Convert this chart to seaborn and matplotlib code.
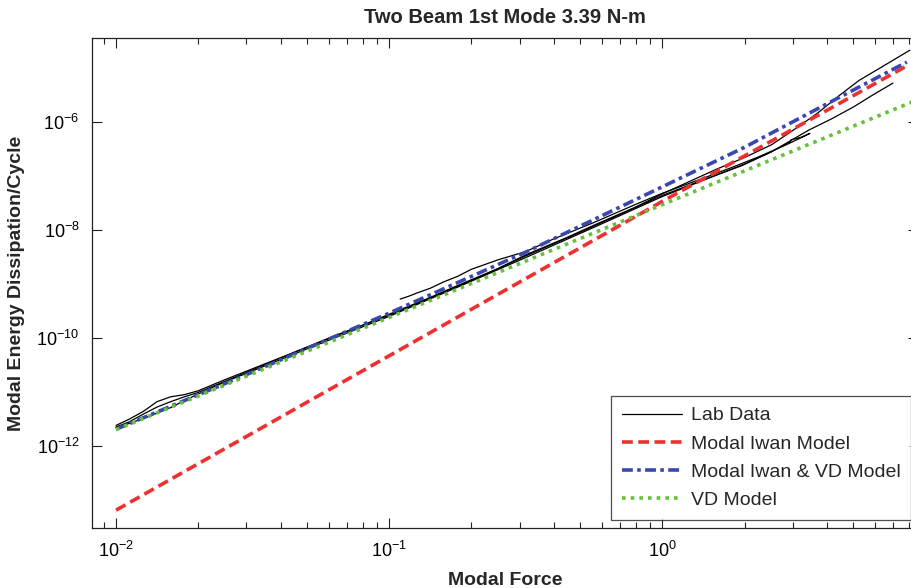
import numpy as np
import pandas as pd
import matplotlib.pyplot as plt
import seaborn as sns
from matplotlib.ticker import LogLocator, NullLocator, NullFormatter
from matplotlib.lines import Line2D

sns.set_style('ticks')
plt.rcParams['font.family'] = ['Liberation Sans', 'DejaVu Sans']

# Model curves (log10 of force, log10 of energy/cycle)
iwan_logf = [-2.0, -1.5, -1.0, -0.5, 0.0, 0.3, 0.6, 0.888]
iwan_loge = [-13.19, -11.76, -10.33, -8.90, -7.47, -6.63, -5.79, -4.98]

iwan_vd_logf = [-2.0, -1.5, -1.0, -0.5, 0.0, 0.3, 0.6, 0.895]
iwan_vd_loge = [-11.69, -10.63, -9.54, -8.41, -7.20, -6.47, -5.67, -4.89]

vd_logf = [-2.0, -1.0, 0.0, 0.914]
vd_loge = [-11.70, -9.62, -7.53, -5.63]

# Lab data runs
lab1_logf = [-2.0, -1.95, -1.9, -1.85, -1.8, -1.75, -1.7, -1.6, -1.5, -1.4, -1.25, -1.1, -1.0,
             -0.85, -0.75, -0.6, -0.5, -0.35, -0.25, -0.1, 0.0, 0.1, 0.2, 0.3, 0.4, 0.5,
             0.572, 0.65, 0.72, 0.8, 0.906]
lab1_loge = [-11.62, -11.50, -11.36, -11.18, -11.09, -11.05, -10.98, -10.77, -10.57, -10.37,
             -10.07, -9.77, -9.56, -9.25, -9.03, -8.71, -8.46, -8.14, -7.91, -7.58, -7.33,
             -7.10, -6.87, -6.66, -6.42, -6.08, -5.82, -5.50, -5.23, -4.99, -4.67]

lab2_logf = [-2.0, -1.95, -1.9, -1.85, -1.8, -1.75, -1.7, -1.6, -1.5, -1.35, -1.2, -1.0,
             -0.8, -0.65, -0.5, -0.3, -0.15, 0.0, 0.15, 0.29, 0.4, 0.536, 0.62, 0.7, 0.77, 0.844]
lab2_loge = [-11.65, -11.55, -11.41, -11.28, -11.18, -11.09, -11.01, -10.80, -10.59, -10.27,
             -9.96, -9.58, -9.15, -8.83, -8.48, -8.04, -7.70, -7.36, -7.07, -6.81, -6.55,
             -6.15, -5.94, -5.72, -5.50, -5.28]

lab3_logf = [-0.96, -0.93, -0.9, -0.85, -0.8, -0.75, -0.7, -0.65, -0.6, -0.5, -0.4, -0.25,
             -0.1, 0.0, 0.15, 0.25, 0.35, 0.45, 0.5, 0.54, 0.51, 0.47]
lab3_loge = [-9.28, -9.23, -9.17, -9.08, -8.96, -8.86, -8.73, -8.64, -8.55, -8.40, -8.17,
             -7.86, -7.53, -7.32, -7.04, -6.85, -6.65, -6.43, -6.31, -6.21, -6.28, -6.33]

lab4_logf = [-2.0, -1.95, -1.9, -1.85, -1.8, -1.75, -1.7, -1.6, -1.5, -1.3, -1.0, -0.75,
             -0.5, -0.25, 0.0, 0.15, 0.3, 0.4, 0.47]
lab4_loge = [-11.66, -11.58, -11.49, -11.39, -11.29, -11.16, -11.04, -10.81, -10.61, -10.20,
             -9.60, -9.06, -8.51, -7.95, -7.38, -7.08, -6.78, -6.55, -6.36]

lab_runs = [(lab1_logf, lab1_loge), (lab2_logf, lab2_loge),
            (lab3_logf, lab3_loge), (lab4_logf, lab4_loge)]

legend_labels = ['Lab Data', 'Modal Iwan Model', 'Modal Iwan & VD Model', 'VD Model']

fig = plt.figure(figsize=(9.12, 5.88), dpi=100)
ax = fig.add_axes([92 / 912, 60 / 588, 826 / 912, 490 / 588])
ax.set_xscale('log')
ax.set_yscale('log')

# Lab data, one black line per run
rows = []
for i, (lf, le) in enumerate(lab_runs):
    for f, e in zip(lf, le):
        rows.append({'force': 10 ** f, 'energy': 10 ** e, 'run': i})
lab = pd.DataFrame(rows)
sns.lineplot(data=lab, x='force', y='energy', units='run', estimator=None, sort=False,
             color='black', lw=0.9, legend=False, ax=ax)

red = '#f03030'
blue = '#3848b0'
green = '#66c23a'
lw = 2.6
red_dash = (3.0, 1.5)
blue_dash = (3.0, 1.2, 1.0, 1.2)
green_dash = (1.0, 1.4)

sns.lineplot(x=10 ** np.array(iwan_logf), y=10 ** np.array(iwan_loge), color=red, lw=lw,
             ax=ax, legend=False)
ax.lines[-1].set_dashes(red_dash)
sns.lineplot(x=10 ** np.array(iwan_vd_logf), y=10 ** np.array(iwan_vd_loge), color=blue,
             lw=lw, ax=ax, legend=False)
ax.lines[-1].set_dashes(blue_dash)
sns.lineplot(x=10 ** np.array(vd_logf), y=10 ** np.array(vd_loge), color=green, lw=lw,
             ax=ax, legend=False)
ax.lines[-1].set_dashes(green_dash)

# axis edge on the right falls just outside the picture, as in the reference
ax.set_xlim(10 ** -2.088, 10 ** (255 / 272.5))
ax.set_ylim(10 ** -13.52, 10 ** -4.444)

ax.xaxis.set_major_locator(LogLocator(base=10, numticks=10))
ax.xaxis.set_minor_locator(LogLocator(base=10, subs=np.arange(2, 10), numticks=20))
ax.xaxis.set_minor_formatter(NullFormatter())
ax.set_yticks([1e-12, 1e-10, 1e-8, 1e-6])
ax.yaxis.set_minor_locator(NullLocator())
ax.tick_params(which='both', direction='in', top=True, right=True, labelsize=13, width=0.8,
               colors='#222222', labelcolor='black')
ax.tick_params(which='major', length=7, pad=9)
ax.tick_params(which='minor', length=4)
for s in ax.spines.values():
    s.set_linewidth(0.9)
    s.set_color('#222222')

ax.set_title('Two Beam 1st Mode 3.39 N-m', fontsize=14.5, fontweight='bold', pad=11)
ax.set_xlabel('Modal Force', fontsize=14, fontweight='bold', labelpad=8)
ax.set_ylabel('Modal Energy Dissipation/Cycle', fontsize=14, fontweight='bold', labelpad=8)

handles = [Line2D([], [], color='black', lw=0.9),
           Line2D([], [], color=red, lw=lw, dashes=red_dash),
           Line2D([], [], color=blue, lw=lw, dashes=blue_dash),
           Line2D([], [], color=green, lw=lw, dashes=green_dash)]
leg = ax.legend(handles, legend_labels, loc='upper left',
                bbox_to_anchor=(611 / 912, 1 - 396 / 588), bbox_transform=fig.transFigure,
                fontsize=14, frameon=True, fancybox=False, edgecolor='#222222',
                handlelength=3.1, handletextpad=0.46, labelspacing=0.55, borderpad=0.55,
                borderaxespad=0)
leg.get_frame().set_linewidth(0.9)

fig.savefig('out.png', dpi=100)
